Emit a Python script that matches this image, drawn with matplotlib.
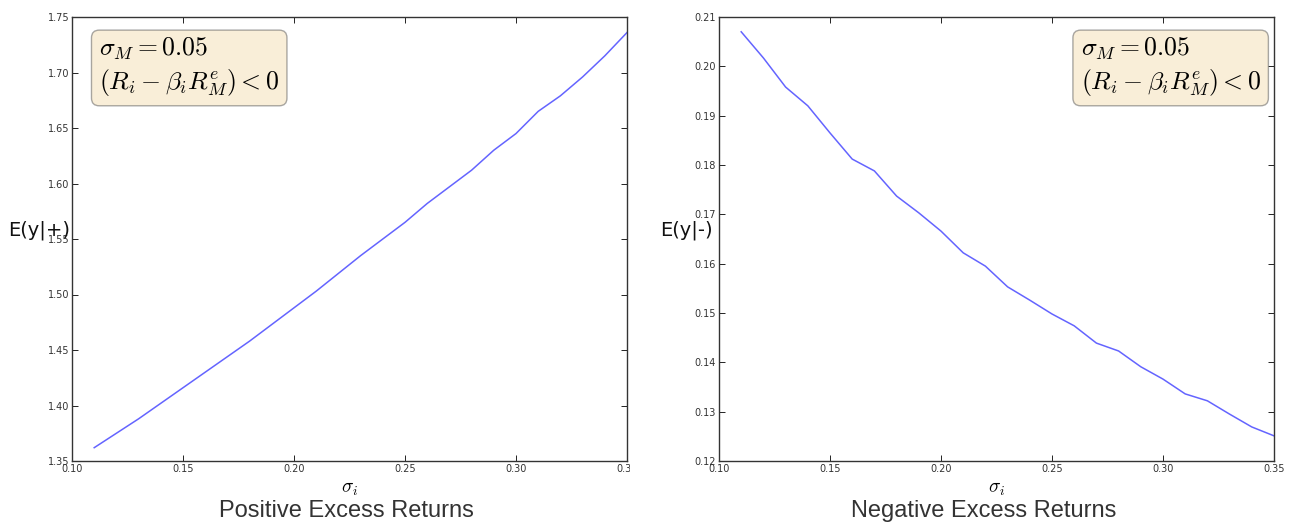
import numpy as np
import matplotlib
matplotlib.use("Agg")
import matplotlib.pyplot as plt
from matplotlib.transforms import Bbox

# sigma_i grid and expected values
sigma = [0.11, 0.12, 0.13, 0.14, 0.15, 0.16, 0.17, 0.18, 0.19, 0.20, 0.21, 0.22, 0.23,
         0.24, 0.25, 0.26, 0.27, 0.28, 0.29, 0.30, 0.31, 0.32, 0.33, 0.34, 0.35]
ey_pos = [1.362, 1.375, 1.388, 1.402, 1.416, 1.430, 1.444, 1.458, 1.473, 1.488, 1.503,
          1.519, 1.535, 1.550, 1.565, 1.582, 1.597, 1.612, 1.630, 1.645, 1.665, 1.679,
          1.696, 1.715, 1.736]
ey_neg = [0.2070, 0.2017, 0.1958, 0.1920, 0.1865, 0.1812, 0.1788, 0.1737, 0.1703, 0.1666,
          0.1622, 0.1595, 0.1553, 0.1526, 0.1498, 0.1474, 0.1439, 0.1423, 0.1391, 0.1366,
          0.1336, 0.1322, 0.1295, 0.1269, 0.1251]

xticks = [0.10, 0.15, 0.20, 0.25, 0.30, 0.35]
pos_yticks = [1.35, 1.40, 1.45, 1.50, 1.55, 1.60, 1.65, 1.70, 1.75]
neg_yticks = [0.12, 0.13, 0.14, 0.15, 0.16, 0.17, 0.18, 0.19, 0.20, 0.21]

box_text = "$\\sigma_M = 0.05$\n$(R_i - \\beta_i R^e_M) < 0$"

W, H = 1291, 525
fig = plt.figure(figsize=(W / 100, H / 100), dpi=100)
plt.rcParams["mathtext.fontset"] = "cm"


def make_axes(x0, x1, y0=17, y1=461):
    return fig.add_axes([x0 / W, 1 - y1 / H, (x1 - x0) / W, (y1 - y0) / H])


def style(ax, yticks, ylab):
    ax.set_xlim(0.10, 0.35)
    ax.set_ylim(yticks[0], yticks[-1])
    ax.set_xticks(xticks)
    ax.set_xticklabels(["%.2f" % t for t in xticks])
    ax.set_yticks(yticks)
    ax.set_yticklabels(["%.2f" % t for t in yticks])
    ax.tick_params(direction="in", top=True, right=True, labelsize=7,
                   labelcolor="#333333", length=4, width=0.6, pad=2)
    for s in ax.spines.values():
        s.set_color("#333333")
        s.set_linewidth(1.0)
    ax.set_xlabel("$\\sigma_i$", fontsize=14, labelpad=4)
    ax.set_ylabel(ylab, fontsize=14, rotation=0, color="#111111")


box = dict(boxstyle="round,pad=0.3", facecolor="wheat", alpha=0.5,
           edgecolor="#555555")

# left panel
ax1 = make_axes(72, 627)
ax1.plot(sigma, ey_pos, color="#6464ff", lw=1.1)
style(ax1, pos_yticks, "E(y|+)")
ax1.yaxis.set_label_coords(-0.06, 0.497)
ax1.text(0.049, 0.959, box_text, transform=ax1.transAxes, fontsize=18.5,
         va="top", ha="left", linespacing=1.25, multialignment="left", bbox=box)
fig.text(346 / W, 1 - 511 / H, "Positive Excess Returns", fontsize=17,
         family="Liberation Sans", color="#333333", ha="center", va="center")

# right panel
ax2 = make_axes(719, 1274)
ax2.plot(sigma, ey_neg, color="#6464ff", lw=1.1)
style(ax2, neg_yticks, "E(y|-)")
ax2.yaxis.set_label_coords(-0.059, 0.497)
ax2.text(0.976, 0.959, box_text, transform=ax2.transAxes, fontsize=18.5,
         va="top", ha="right", linespacing=1.25, multialignment="left", bbox=box)
fig.text(984 / W, 1 - 511 / H, "Negative Excess Returns", fontsize=17,
         family="Liberation Sans", color="#333333", ha="center", va="center")

# the left panel is cut off just after its right spine
fig.canvas.draw()
clip = Bbox.from_extents(0, 0, 630, H)
for lab in ax1.get_xticklabels():
    lab.set_clip_box(clip)
    lab.set_clip_on(True)

fig.savefig("out.png", dpi=100)
